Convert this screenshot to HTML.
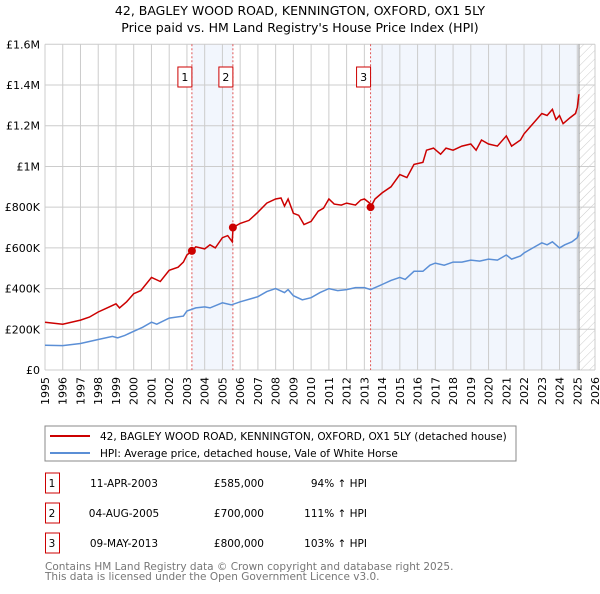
<!DOCTYPE html>
<html><head><meta charset="utf-8"><style>
body{margin:0;background:#fff;font-family:"DejaVu Sans","Liberation Sans",sans-serif;}
svg text{font-family:"DejaVu Sans","Liberation Sans",sans-serif;}
</style></head><body>
<svg id="c" width="600" height="590" xmlns="http://www.w3.org/2000/svg">
<defs><pattern id="hatch" width="6" height="6" patternUnits="userSpaceOnUse" patternTransform="rotate(45)"><line x1="0" y1="0" x2="0" y2="6" stroke="#ccc" stroke-width="1"/></pattern></defs>
<text x="300" y="15" text-anchor="middle" font-size="12.5">42, BAGLEY WOOD ROAD, KENNINGTON, OXFORD, OX1 5LY</text>
<text x="300" y="32" text-anchor="middle" font-size="12.5">Price paid vs. HM Land Registry's House Price Index (HPI)</text>
<g id="plot"></g>
<rect x="45" y="426" width="471" height="35" fill="#fff" stroke="#888"/>
<line x1="50" y1="436" x2="90" y2="436" stroke="#cc0000" stroke-width="2"/>
<text x="100" y="440" font-size="10.5">42, BAGLEY WOOD ROAD, KENNINGTON, OXFORD, OX1 5LY (detached house)</text>
<line x1="50" y1="453" x2="90" y2="453" stroke="#5b8fd6" stroke-width="2"/>
<text x="100" y="457" font-size="10.5">HPI: Average price, detached house, Vale of White Horse</text>
<g id="table" font-size="10.5"></g>
<text x="45" y="570" font-size="10.5" fill="#777">Contains HM Land Registry data © Crown copyright and database right 2025.</text>
<text x="45" y="580" font-size="10.5" fill="#777">This data is licensed under the Open Government Licence v3.0.</text>
</svg>
<script>
const yTicks=[0,200000,400000,600000,800000,1000000,1200000,1400000,1600000];
const yTickLabels=["£0","£200K","£400K","£600K","£800K","£1M","£1.2M","£1.4M","£1.6M"];
const years=[1995,1996,1997,1998,1999,2000,2001,2002,2003,2004,2005,2006,2007,2008,2009,2010,2011,2012,2013,2014,2015,2016,2017,2018,2019,2020,2021,2022,2023,2024,2025,2026];
const hpiT=[1995,1996,1997,1998,1998.8,1999.1,1999.5,2000,2000.5,2001,2001.3,2002,2002.8,2003,2003.5,2004,2004.3,2005,2005.5,2006,2007,2007.5,2008,2008.5,2008.7,2009,2009.5,2010,2010.5,2011,2011.5,2012,2012.5,2013,2013.35,2014,2014.5,2015,2015.3,2015.8,2016.3,2016.7,2017,2017.5,2018,2018.5,2019,2019.5,2020,2020.5,2021,2021.3,2021.8,2022,2022.5,2023,2023.3,2023.6,2024,2024.3,2024.7,2025,2025.1];
const hpiV=[122,120,130,150,165,158,170,190,210,235,225,255,265,290,305,310,305,330,320,335,360,385,400,380,395,365,345,355,380,400,390,395,405,405,395,420,440,455,445,485,485,515,525,515,530,530,540,535,545,540,565,545,560,575,600,625,615,630,600,615,630,650,680];
const propT=[1995,1996,1997,1997.5,1998,1998.5,1999,1999.2,1999.6,2000,2000.4,2001,2001.5,2002,2002.5,2002.8,2003,2003.28,2003.5,2004,2004.3,2004.6,2005,2005.3,2005.55,2005.6,2006,2006.5,2007,2007.5,2008,2008.3,2008.5,2008.7,2009,2009.3,2009.6,2010,2010.4,2010.7,2011,2011.3,2011.7,2012,2012.5,2012.8,2013,2013.3,2013.35,2013.6,2014,2014.5,2015,2015.4,2015.8,2016.3,2016.5,2016.9,2017.3,2017.6,2018,2018.5,2019,2019.3,2019.6,2020,2020.5,2021,2021.3,2021.8,2022,2022.5,2023,2023.3,2023.6,2023.8,2024,2024.2,2024.6,2024.9,2025,2025.1];
const propV=[235,225,245,260,285,305,325,305,335,375,390,455,435,490,505,530,565,585,605,595,615,600,650,660,630,700,720,735,775,820,840,845,805,840,770,760,715,730,780,795,840,815,810,820,810,835,840,820,800,840,870,900,960,945,1010,1020,1080,1090,1060,1090,1080,1100,1110,1080,1130,1110,1100,1150,1100,1130,1160,1210,1260,1250,1280,1230,1250,1210,1240,1260,1290,1355];
const saleT=[2003.28,2005.59,2013.35];
const saleV=[585000,700000,800000];
const saleLabels=["1","2","3"];
const saleDates=["11-APR-2003","04-AUG-2005","09-MAY-2013"];
const salePrices=["£585,000","£700,000","£800,000"];
const saleHpi=["94% ↑ HPI","111% ↑ HPI","103% ↑ HPI"];
const dataEnd=2025.1;

const X0=45,X1=595,Y0=370,Y1=44.3;
const xs=t=>X0+(t-1995)/31*(X1-X0);
const ys=v=>Y0-v/1600000*(Y0-Y1);
const NS="http://www.w3.org/2000/svg";
const g=document.getElementById('plot');
function mk(tag,attrs,parent){const e=document.createElementNS(NS,tag);for(const k in attrs)e.setAttribute(k,attrs[k]);(parent||g).appendChild(e);return e;}
let r=mk('rect',{x:xs(saleT[0]),y:Y1,width:xs(saleT[1])-xs(saleT[0]),height:Y0-Y1,fill:'#f2f6fd'});


r=mk('rect',{x:xs(saleT[2]),y:Y1,width:xs(dataEnd)-xs(saleT[2]),height:Y0-Y1,fill:'#f2f6fd'});


r=mk('rect',{x:xs(dataEnd),y:Y1,width:X1-xs(dataEnd),height:Y0-Y1,fill:'url(#hatch)'});


years.forEach(y=>{const l=mk('line',{x1:xs(y),x2:xs(y),y1:Y1,y2:Y0,stroke:'#ccc','stroke-width':1});


const t=mk('text',{x:0,y:0,'font-size':11,'text-anchor':'end',transform:`translate(${xs(y)+4},${Y0+7}) rotate(-90)`});t.textContent=y;

});
yTicks.forEach((v,i)=>{const l=mk('line',{x1:X0,x2:X1,y1:ys(v),y2:ys(v),stroke:'#ccc','stroke-width':1});


const t=mk('text',{x:40,y:ys(v)+4,'font-size':11,'text-anchor':'end'});t.textContent=yTickLabels[i];

});
let el=mk('line',{x1:xs(dataEnd),x2:xs(dataEnd),y1:Y1,y2:Y0,stroke:'#999','stroke-width':1});


saleT.forEach((t,i)=>{const l=mk('line',{x1:xs(t),x2:xs(t),y1:Y1,y2:Y0,stroke:'#e05555','stroke-width':1,'stroke-dasharray':'2,2'});


const b=mk('rect',{x:xs(t)-14,y:67,width:14,height:20,fill:'#fff',stroke:'#cc0000'});


const tx=mk('text',{x:xs(t)-7,y:81,'font-size':11,'text-anchor':'middle'});tx.textContent=saleLabels[i];

});
const path=(T,V)=>T.map((t,i)=>(i?'L':'M')+xs(t).toFixed(1)+','+ys(V[i]*1000).toFixed(1)).join('');
el=mk('path',{d:path(hpiT,hpiV),fill:'none',stroke:'#5b8fd6','stroke-width':1.5});


el=mk('path',{d:path(propT,propV),fill:'none',stroke:'#cc0000','stroke-width':1.5});


saleT.forEach((t,i)=>{const c=mk('circle',{cx:xs(t),cy:ys(saleV[i]),r:4,fill:'#cc0000'});

});
const tb=document.getElementById('table');
saleLabels.forEach((s,i)=>{const y=483+i*30;
const b=mk('rect',{x:45.5,y:y-10,width:14,height:20,fill:'#fff',stroke:'#cc0000'},tb);


const cells=[[52,s,'middle'],[124,saleDates[i],'middle'],[264,salePrices[i],'end'],[367,saleHpi[i],'end']];
cells.forEach(c=>{const t=mk('text',{x:c[0],y:y+4,'text-anchor':c[2]},tb);t.textContent=c[1];

});});
</script>
</body></html>
